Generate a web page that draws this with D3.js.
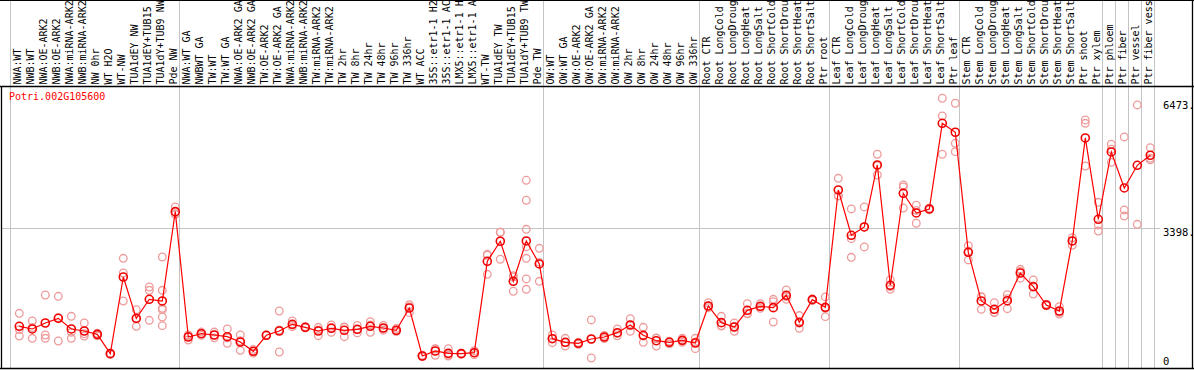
<!DOCTYPE html>
<html><head><meta charset="utf-8">
<script src="https://cdn.jsdelivr.net/npm/d3@7"></script>
<style>
html,body{margin:0;padding:0;background:#fff;}
svg{display:block;font-family:"DejaVu Sans Mono",monospace;}
</style></head>
<body><svg id="c" width="1194" height="370"></svg>
<script>
const geneTitle = "Potri.002G105600";
const categories = [
"NWA:WT","NWB:WT","NWA:OE-ARK2","NWB:OE-ARK2","NWA:miRNA-ARK2","NWB:miRNA-ARK2","NW 0hr","WT H2O","WT-NW","TUA1dEY NW","TUA1dEY+TUB15 NW","TUA1dY+TUB9 NW","Pde NW",
"NWA:WT GA","NWBWT GA","TW:WT","TW:WT GA","NWA:OE-ARK2 GA","NWB:OE-ARK2 GA","TW:OE-ARK2","TW:OE-ARK2 GA","NWA:miRNA-ARK2","NWB:miRNA-ARK2","TW:miRNA-ARK2","TW:miRNA-ARK2","TW 2hr","TW 8hr","TW 24hr","TW 48hr","TW 96hr","TW 336hr","WT ACC","35S::etr1-1 H2O","35S::etr1-1 ACC","LMX5::etr1-1 H2O","LMX5::etr1-1 ACC","WT-TW","TUA1dEY TW","TUA1dEY+TUB15 TW","TUA1dY+TUB9 TW","Pde TW",
"OW:WT","OW:WT GA","OW:OE-ARK2","OW:OE-ARK2 GA","OW:miRNA-ARK2","OW:miRNA-ARK2","OW 2hr","OW 8hr","OW 24hr","OW 48hr","OW 96hr","OW 336hr",
"Root CTR","Root LongCold","Root LongDrought","Root LongHeat","Root LongSalt","Root ShortCold","Root ShortDrought","Root ShortHeat","Root ShortSalt","Ptr root",
"Leaf CTR","Leaf LongCold","Leaf LongDrought","Leaf LongHeat","Leaf LongSalt","Leaf ShortCold","Leaf ShortDrought","Leaf ShortHeat","Leaf ShortSalt","Ptr leaf",
"Stem CTR","Stem LongCold","Stem LongDrought","Stem LongHeat","Stem LongSalt","Stem ShortCold","Stem ShortDrought","Stem ShortHeat","Stem ShortSalt","Ptr shoot","Ptr xylem",
"Ptr phloem","Ptr fiber","Ptr vessel","Ptr fiber vessel"
];
const labelMaxChars = 14;
const groupSizes = [13, 28, 12, 10, 10, 11, 1, 1, 1, 1];
const meanValues = [
1010,945,1090,1203,945,896,815,347,2204,1203,1664,1623,3786,
751,831,799,758,630,404,792,896,1058,985,896,961,913,937,1010,969,913,1453,291,412,355,347,371,2584,3069,2100,3076,2519,
710,622,598,702,751,855,1041,792,661,622,670,605,
1502,1098,993,1397,1494,1461,1761,1106,1655,1469,
4311,3214,3415,4917,2003,4231,3754,3851,5926,5709,
2802,1623,1422,1630,2301,1969,1526,1380,3076,5571,3601,
5232,4360,4909,5152
];
const replicateValues = [
[1325,930,775],[1138,980,719],[1768,799,719],[1736,1219,654],[1252,864,719],[1090,830,775],[840,800,780],[360,340,330],[2657,2301,1623],[1413,1190,1010],[1962,1882,1155],[2688,1882,1446,1413,1235,1025],[3900,3738,3720],
[800,775,678],[870,830,790],[870,800,730],[945,730,598],[799,660,429],[450,400,360],[800,790,785],[1380,920,387],[1138,1040,1000],[1000,985,970],[985,920,782],[1041,980,864],[985,995,758],[1030,930,850],[1122,1045,864],[1030,960,915],[960,900,880],[1533,1486,1340],[310,290,273],[468,460,307],[468,290,307],[360,345,335],[420,370,323],[2730,2753,2269],[3287,3287,2633],[2238,2204,1858],[4546,4062,3359,2938,2657,2156,1906],[2899,2558,2100],
[799,718,613],[719,614,533],[620,600,575],[1163,700,242],[790,750,713],[945,840,780],[1195,1040,888],[985,770,622],[720,730,533],[650,630,585],[719,670,622],[719,628,468],
[1580,1500,1460],[1252,1025,1017],[1090,1000,888],[1557,1310,1325],[1557,1480,1445],[1664,1605,1114],[1889,1664,1730],[1270,1087,961],[1655,1670,1640],[1720,1445,1243],
[4594,4166,4173],[3851,3132,2681],[3900,3415,2931],[5176,4900,4674],[2131,1970,1906],[4432,4386,3875],[3941,3815,3505],[3870,3851,3830],[6532,6103,5176],[6411,5442,5239],
[2962,2830,2616],[1727,1720,1422],[1582,1345,1340],[1775,1680,1436],[2390,2340,2175],[2131,1985,1792],[1545,1526,1507],[1485,1347,1308],[3156,3076,2972],[6007,5926,4892],[4013,3463,3318],
[5418,5297,4981],[5595,3827,3681],[6370,3480],[5336,5079,5040]
];
const yTickValues = [6473, 3398, 0];
const yTickLabels = ["6473.", "3398.", "0"];
const yMax = 6473;

const svg = d3.select("#c");
const W = 1194, H = 370;
const headerBottom = 86.5, plotBottom = 368.5;
const x = d3.scaleBand().domain(d3.range(categories.length)).range([10.5, 1154.5]).paddingInner(0).paddingOuter(0);
const y = d3.scaleLinear().domain([0, yMax]).range([368, 100.7]);
const px = i => x(i) + 8.8;

// group separators
let starts = [0]; groupSizes.forEach(s => starts.push(starts[starts.length-1] + s));
svg.append("g").selectAll("line").data(starts).join("line")
  .attr("x1", d => Math.floor(d === categories.length ? x(d-1) + x.step() : x(d)) + 0.5)
  .attr("x2", d => Math.floor(d === categories.length ? x(d-1) + x.step() : x(d)) + 0.5)
  .attr("y1", 0).attr("y2", plotBottom)
  .attr("stroke", "#c4c4c4").attr("stroke-width", 1);

// gridline at middle tick
svg.append("line").attr("x1", 1).attr("x2", 1160)
  .attr("y1", Math.round(y(3398)) + 0.5).attr("y2", Math.round(y(3398)) + 0.5)
  .attr("stroke", "#c4c4c4");

// frame
svg.append("line").attr("x1",0).attr("x2",W).attr("y1",0.5).attr("y2",0.5).attr("stroke","#000");
svg.append("line").attr("x1",0).attr("x2",W).attr("y1",headerBottom).attr("y2",headerBottom).attr("stroke","#000").attr("stroke-width",1.3);
svg.append("line").attr("x1",1.5).attr("x2",1.5).attr("y1",headerBottom).attr("y2",plotBottom).attr("stroke","#000").attr("stroke-width",1.3);
svg.append("line").attr("x1",1192.5).attr("x2",1192.5).attr("y1",0).attr("y2",plotBottom).attr("stroke","#000").attr("stroke-width",1.3);
svg.append("line").attr("x1",0).attr("x2",W).attr("y1",plotBottom).attr("y2",plotBottom).attr("stroke","#000").attr("stroke-width",1.3);

// category labels (header shows at most ~14 characters, as in the reference)
svg.append("g").selectAll("text").data(categories).join("text")
  .attr("transform", (d,i) => `translate(${x(i)+10.6},84.6) rotate(-90)`)
  .attr("font-size", "10px").attr("fill", "#000")
  .text(d => d.slice(0, labelMaxChars));

// title
svg.append("text").attr("x", 9).attr("y", 100).attr("font-size","10px").attr("fill","#ff0000").text(geneTitle);

// y tick labels
svg.append("g").selectAll("text").data(yTickValues).join("text")
  .attr("x", 1163)
  .attr("y", (d,i) => Math.min(y(d) + 8.3, 365))
  .attr("font-size","10.5px").attr("fill","#000")
  .text((d,i) => yTickLabels[i]);

// replicate points
const reps = [];
replicateValues.forEach((arr,i) => arr.forEach(v => reps.push({i, v})));
svg.append("g").selectAll("circle").data(reps).join("circle")
  .attr("cx", d => px(d.i)).attr("cy", d => y(d.v)).attr("r", 3.8)
  .attr("fill","none").attr("stroke","#ee9a9a").attr("stroke-width",1.3);

// mean line
const line = d3.line().x((d,i) => px(i)).y(d => y(d));
svg.append("path").datum(meanValues).attr("d", line)
  .attr("fill","none").attr("stroke","#ff0000").attr("stroke-width",1.2);

// mean points
svg.append("g").selectAll("circle").data(meanValues).join("circle")
  .attr("cx", (d,i) => px(i)).attr("cy", d => y(d)).attr("r", 4)
  .attr("fill","none").attr("stroke","#f00000").attr("stroke-width",1.6);
</script>
</body></html>
